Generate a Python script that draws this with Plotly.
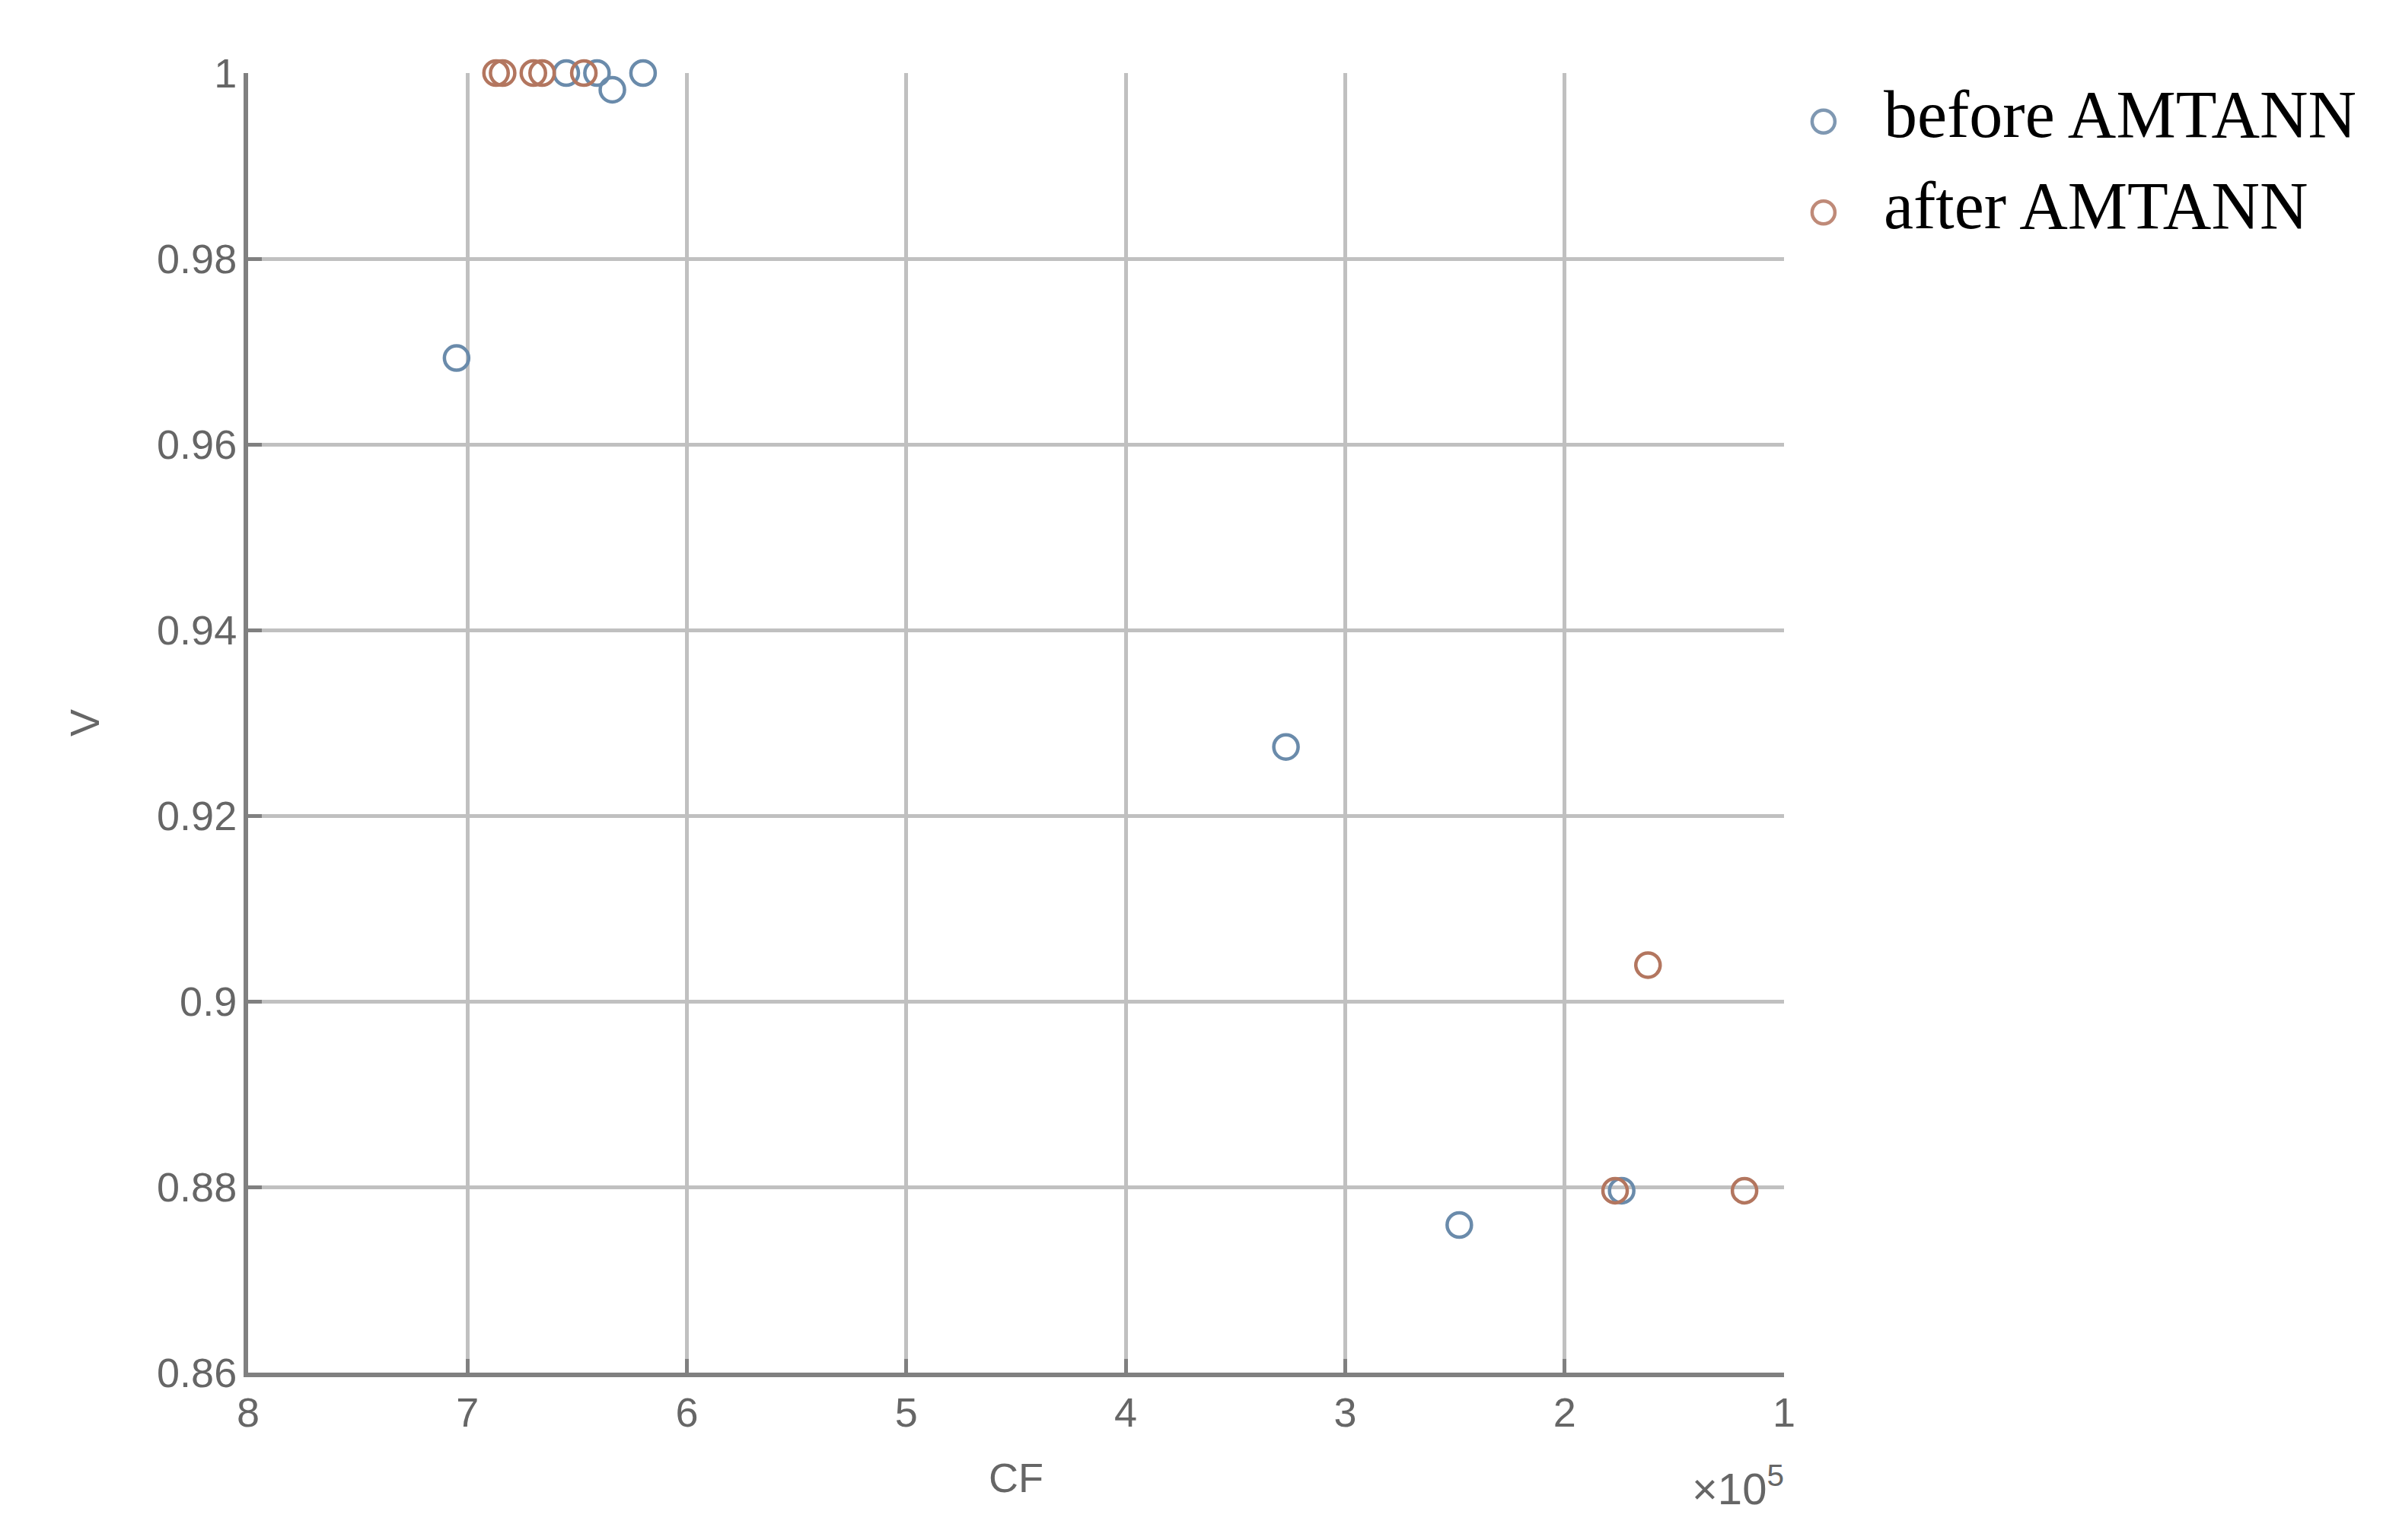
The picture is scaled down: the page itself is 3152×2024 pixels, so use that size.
import plotly.graph_objects as go

before_cf = [705000, 655000, 641000, 634000, 620000, 327000, 248000, 174000]
before_v = [0.9693, 1.0, 1.0, 0.9982, 1.0, 0.9274, 0.8759, 0.8796]

after_cf = [687000, 684000, 670000, 666000, 647000, 162000, 177000, 118000]
after_v = [1.0, 1.0, 1.0, 1.0, 1.0, 0.9039, 0.8796, 0.8796]

series_names = ["before AMTANN", "after AMTANN"]

x_tickvals = [100000, 200000, 300000, 400000, 500000, 600000, 700000, 800000]
x_ticktext = ["1", "2", "3", "4", "5", "6", "7", "8"]
y_tickvals = [0.86, 0.88, 0.90, 0.92, 0.94, 0.96, 0.98, 1.0]
y_ticktext = ["0.86", "0.88", "0.9", "0.92", "0.94", "0.96", "0.98", "1"]

blue = "#6a8bab"
orange = "#b3765f"
legend_colors = ["#7f98b2", "#bf8a78"]

fig = go.Figure()
fig.add_trace(go.Scatter(
    x=before_cf, y=before_v, mode="markers", name=series_names[0],
    marker=dict(symbol="circle-open", size=32, color=blue, line=dict(width=4.5, color=blue)),
    cliponaxis=False, showlegend=False,
))
fig.add_trace(go.Scatter(
    x=after_cf, y=after_v, mode="markers", name=series_names[1],
    marker=dict(symbol="circle-open", size=32, color=orange, line=dict(width=4.5, color=orange)),
    cliponaxis=False, showlegend=False,
))

axis_font = dict(family="Liberation Sans, Arial, sans-serif", size=54, color="#666666")

fig.update_layout(
    width=3152, height=2024,
    paper_bgcolor="white", plot_bgcolor="white",
    margin=dict(l=318, r=816, t=88, b=228),
    showlegend=False,
    xaxis=dict(
        range=[800000, 100000], tickvals=x_tickvals, ticktext=x_ticktext,
        showgrid=True, gridcolor="#c0c0c0", gridwidth=5,
        showline=True, linecolor="#808080", linewidth=6, mirror=False,
        ticks="inside", ticklen=18, tickwidth=5, tickcolor="#808080",
        tickfont=axis_font, zeroline=False,
        title=dict(text="CF", font=axis_font, standoff=40),
    ),
    yaxis=dict(
        range=[0.86, 1.0], tickvals=y_tickvals, ticktext=y_ticktext,
        showgrid=True, gridcolor="#c0c0c0", gridwidth=5,
        showline=True, linecolor="#808080", linewidth=6, mirror=False,
        ticks="inside", ticklen=18, tickwidth=5, tickcolor="#808080",
        tickfont=axis_font, zeroline=False, ticklabelstandoff=-2,
        title=dict(text="V", font=axis_font, standoff=60),
    ),
)

# legend drawn as shapes + text so that symbols keep the size of the reference
legend_y = [0.9627, 0.8927]
for name, col, ly in zip(series_names, legend_colors, legend_y):
    fig.add_shape(
        type="circle", xref="paper", yref="paper",
        xsizemode="pixel", ysizemode="pixel",
        xanchor=1.0257, yanchor=ly,
        x0=-15, x1=15, y0=-15, y1=15,
        line=dict(color=col, width=4.5), fillcolor="rgba(0,0,0,0)",
    )
    fig.add_annotation(
        x=1.0640, y=ly, xref="paper", yref="paper", xanchor="left", yanchor="middle",
        text=name, showarrow=False, yshift=9,
        font=dict(family="Liberation Serif, Times New Roman, serif", size=88, color="black"),
    )

fig.add_annotation(
    x=1.0, y=0, xref="paper", yref="paper", xanchor="right", yanchor="middle",
    yshift=-148, xshift=2, text="×10<sup>5</sup>", showarrow=False,
    font=dict(family="Liberation Sans, Arial, sans-serif", size=58, color="#666666"),
)

fig.write_html("out.html")
